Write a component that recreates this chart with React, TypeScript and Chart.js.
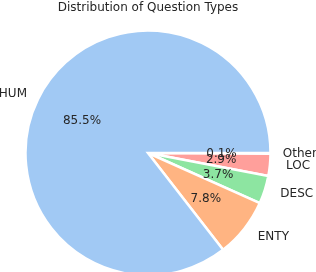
import React, { useEffect, useRef } from "react";
import { Chart, registerables } from "chart.js";

Chart.register(...registerables);

const chartTitle = "Distribution of Question Types";
const categories = ["HUM", "ENTY", "DESC", "LOC", "Other"];
const shares = [85.5, 7.8, 3.7, 2.9, 0.1];
const colors = ["#a1c9f4", "#ffb482", "#8de5a1", "#ff9f9b", "#d0bbff"];
const labelLeadSpaces = [0, 1, 1, 1, 0];

const FONT = "12px 'DejaVu Sans'";
const TEXT_COLOR = "#262626";

export default function App() {
  const ref = useRef<HTMLCanvasElement>(null);

  useEffect(() => {
    const n = categories.length;
    const total = shares.reduce((a, b) => a + b, 0);
    // Chart.js goes clockwise; reverse to mimic a counter-clockwise pie
    const revData = shares.slice().reverse();
    const revColors = colors.slice().reverse();
    const revLabels = categories.slice().reverse();

    const textPlugin = {
      id: "pieText",
      afterDatasetsDraw(chart: any) {
        const ctx = chart.ctx as CanvasRenderingContext2D;
        const meta = chart.getDatasetMeta(0);
        const base = 3.3;
        let cx = 0;
        ctx.save();
        ctx.font = FONT;
        ctx.fillStyle = TEXT_COLOR;
        ctx.textBaseline = "alphabetic";
        for (let k = 0; k < n; k++) {
          const arc = meta.data[n - 1 - k];
          const p = arc.getProps(["x", "y", "startAngle", "endAngle", "outerRadius"], true);
          cx = p.x;
          const cy = p.y;
          const r = p.outerRadius;
          const mid = (p.startAngle + p.endAngle) / 2;
          const lx = cx + 1.1 * r * Math.cos(mid);
          const ly = cy + 1.1 * r * Math.sin(mid);
          ctx.textAlign = lx > cx ? "left" : "right";
          ctx.fillText(" ".repeat(labelLeadSpaces[k]) + categories[k], lx, ly + base);
          const px = cx + 0.6 * r * Math.cos(mid);
          const py = cy + 0.6 * r * Math.sin(mid);
          ctx.textAlign = "center";
          ctx.fillText(((shares[k] / total) * 100).toFixed(1) + "%", px, py + base);
        }
        ctx.textAlign = "center";
        ctx.fillText(chartTitle, cx, 11);
        ctx.restore();
      },
    };

    const chart = new Chart(ref.current as HTMLCanvasElement, {
      type: "pie",
      data: {
        labels: revLabels,
        datasets: [
          {
            data: revData,
            backgroundColor: revColors,
            borderColor: "#ffffff",
            borderWidth: 2.5,
            borderJoinStyle: "miter",
            radius: 122.5,
            clip: false,
          } as any,
        ],
      },
      options: {
        responsive: false,
        animation: false,
        events: [],
        rotation: 90,
        layout: { padding: { top: 34, right: 20, bottom: 0, left: 0 } },
        plugins: {
          legend: { display: false },
          title: { display: false },
          tooltip: { enabled: false },
        },
      } as any,
      plugins: [textPlugin],
    });
    return () => chart.destroy();
  }, []);

  return (
    <div style={{ position: "fixed", left: 0, top: 0, width: 316, height: 272, background: "#fff" }}>
      <canvas ref={ref} width={316} height={272} style={{ width: 316, height: 272, display: "block" }} />
    </div>
  );
}
